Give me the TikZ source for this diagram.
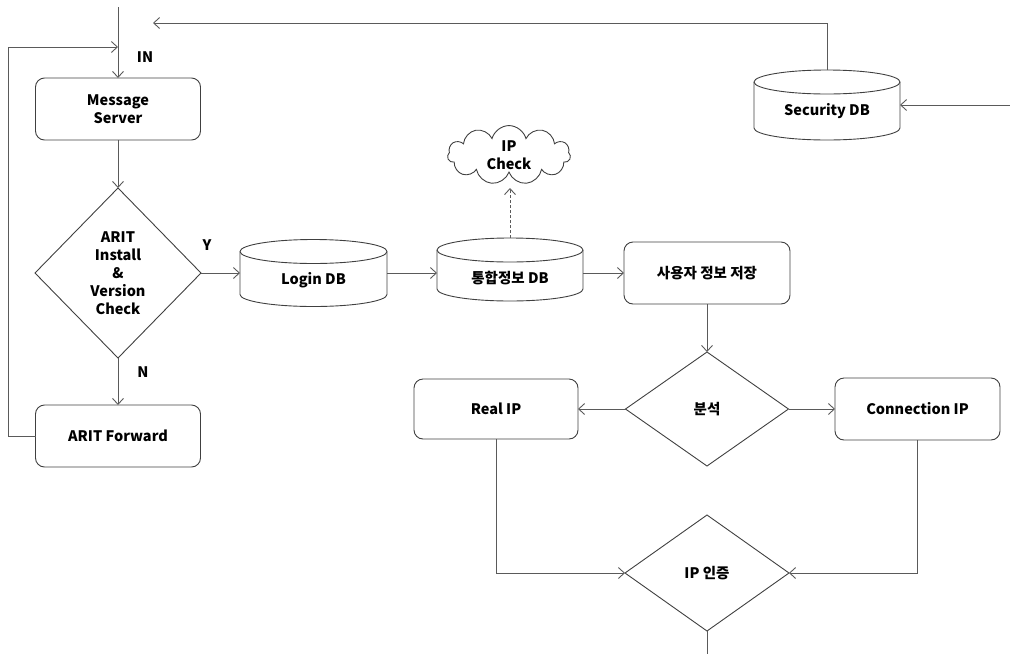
\documentclass[tikz,border=0pt]{standalone}
\usepackage{fontspec}
\setmainfont{Noto Sans CJK KR}
\usetikzlibrary{arrows.meta,shapes.geometric,shapes.symbols}
\definecolor{linegray}{HTML}{5A5A5A}
\definecolor{boxgray}{HTML}{404040}
\newcommand{\dbcyl}[2]{%
  \draw[boxline] ([yshift=-12pt]#1.north west) -- ([yshift=12pt]#1.south west)
    arc[start angle=180,end angle=360,x radius=#2pt,y radius=12pt]
    -- ([yshift=-12pt]#1.north east)
    arc[start angle=0,end angle=180,x radius=#2pt,y radius=12pt] -- cycle;
  \draw[boxline] ([yshift=-12pt]#1.north west)
    arc[start angle=180,end angle=360,x radius=#2pt,y radius=12pt];}
\begin{document}
\begin{tikzpicture}[x=1pt,y=-1pt,
  font=\bfseries\fontsize{14.5}{18}\selectfont,
  boxline/.style={draw=boxgray,line width=0.9pt},
  rbox/.style={boxline,rectangle,rounded corners=9pt,align=center,inner sep=0pt,outer sep=0pt},
  dbnode/.style={rectangle,draw=none,inner sep=0pt,outer sep=0pt},
  dec/.style={boxline,diamond,align=center,inner sep=0pt,outer sep=0pt},
  arr/.style={draw=linegray,line width=0.9pt,-{Straight Barb[length=6pt,width=11pt]}},
  plain/.style={draw=linegray,line width=0.9pt}]
\useasboundingbox (0,0) rectangle (1010,654);

% left column
\node[rbox,minimum width=165pt,minimum height=62pt] (ms) at (118,109) {Message\\Server};
\node[dec,minimum width=166pt,minimum height=170pt] (chk) at (118,273) {ARIT\\Install\\\&\\Version\\Check};
\node[rbox,minimum width=165pt,minimum height=62pt] (fwd) at (118,436) {ARIT Forward};

% databases
\node[dbnode,minimum width=147pt,minimum height=67pt,label={[yshift=-7pt]center:Login DB}] (login) at (313.5,273) {};
\dbcyl{login}{73.5}
\node[dbnode,minimum width=146pt,minimum height=63pt,label={[yshift=-9pt]center:통합정보 DB}] (info) at (510,269.5) {};
\dbcyl{info}{73}
\node[dbnode,minimum width=146pt,minimum height=70pt,label={[yshift=-6pt]center:Security DB}] (sec) at (827,105) {};
\dbcyl{sec}{73}

% cloud
\node[boxline,cloud,cloud puffs=11,aspect=2.2,minimum width=123pt,minimum height=56pt,inner sep=0pt,align=center] (cloud) at (509,155) {IP\\Check};

% right part
\node[rbox,minimum width=166pt,minimum height=62pt] (user) at (707,273) {사용자 정보 저장};
\node[dec,minimum width=163pt,minimum height=114pt] (ana) at (707,409) {분석};
\node[rbox,minimum width=164pt,minimum height=60pt] (real) at (496,409) {Real IP};
\node[rbox,minimum width=165pt,minimum height=62pt] (conn) at (917.5,409) {Connection IP};
\node[dec,minimum width=164pt,minimum height=116pt] (ipa) at (707,573) {IP 인증};

% labels
\node (lin) at (145,57) {IN};
\node (ly) at (207,245) {Y};
\node (ln) at (143,372) {N};

% free ends
\coordinate (in0) at (118,7);
\coordinate (fbx) at (8,47);
\coordinate (fbtop) at (118,47);
\coordinate (topend) at (153,23);
\coordinate (secin) at (1010,105);
\coordinate (out) at (707,654);
\coordinate (cltip) at (510,188);

% connectors
\draw[arr] (in0) -- (ms.north);
\draw[arr] (fwd.west) -| (fbx) -- (fbtop);
\draw[arr] (ms.south) -- (chk.north);
\draw[arr] (chk.south) -- (fwd.north);
\draw[arr] (chk.east) -- (login.west);
\draw[arr] (login.east) -- (login.east -| info.west);
\draw[arr,dash pattern=on 3pt off 2pt] (info.north) -- (cltip);
\draw[arr] (info.east |- user.west) -- (user.west);
\draw[arr] (user.south) -- (ana.north);
\draw[arr] (ana.west) -- (real.east);
\draw[arr] (ana.east) -- (conn.west);
\draw[arr] (real.south) |- (ipa.west);
\draw[arr] (conn.south) |- (ipa.east);
\draw[plain] (ipa.south) -- (out);
\draw[arr] (secin) -- (sec.east);
\draw[arr] (sec.north) |- (topend);
\end{tikzpicture}
\end{document}
